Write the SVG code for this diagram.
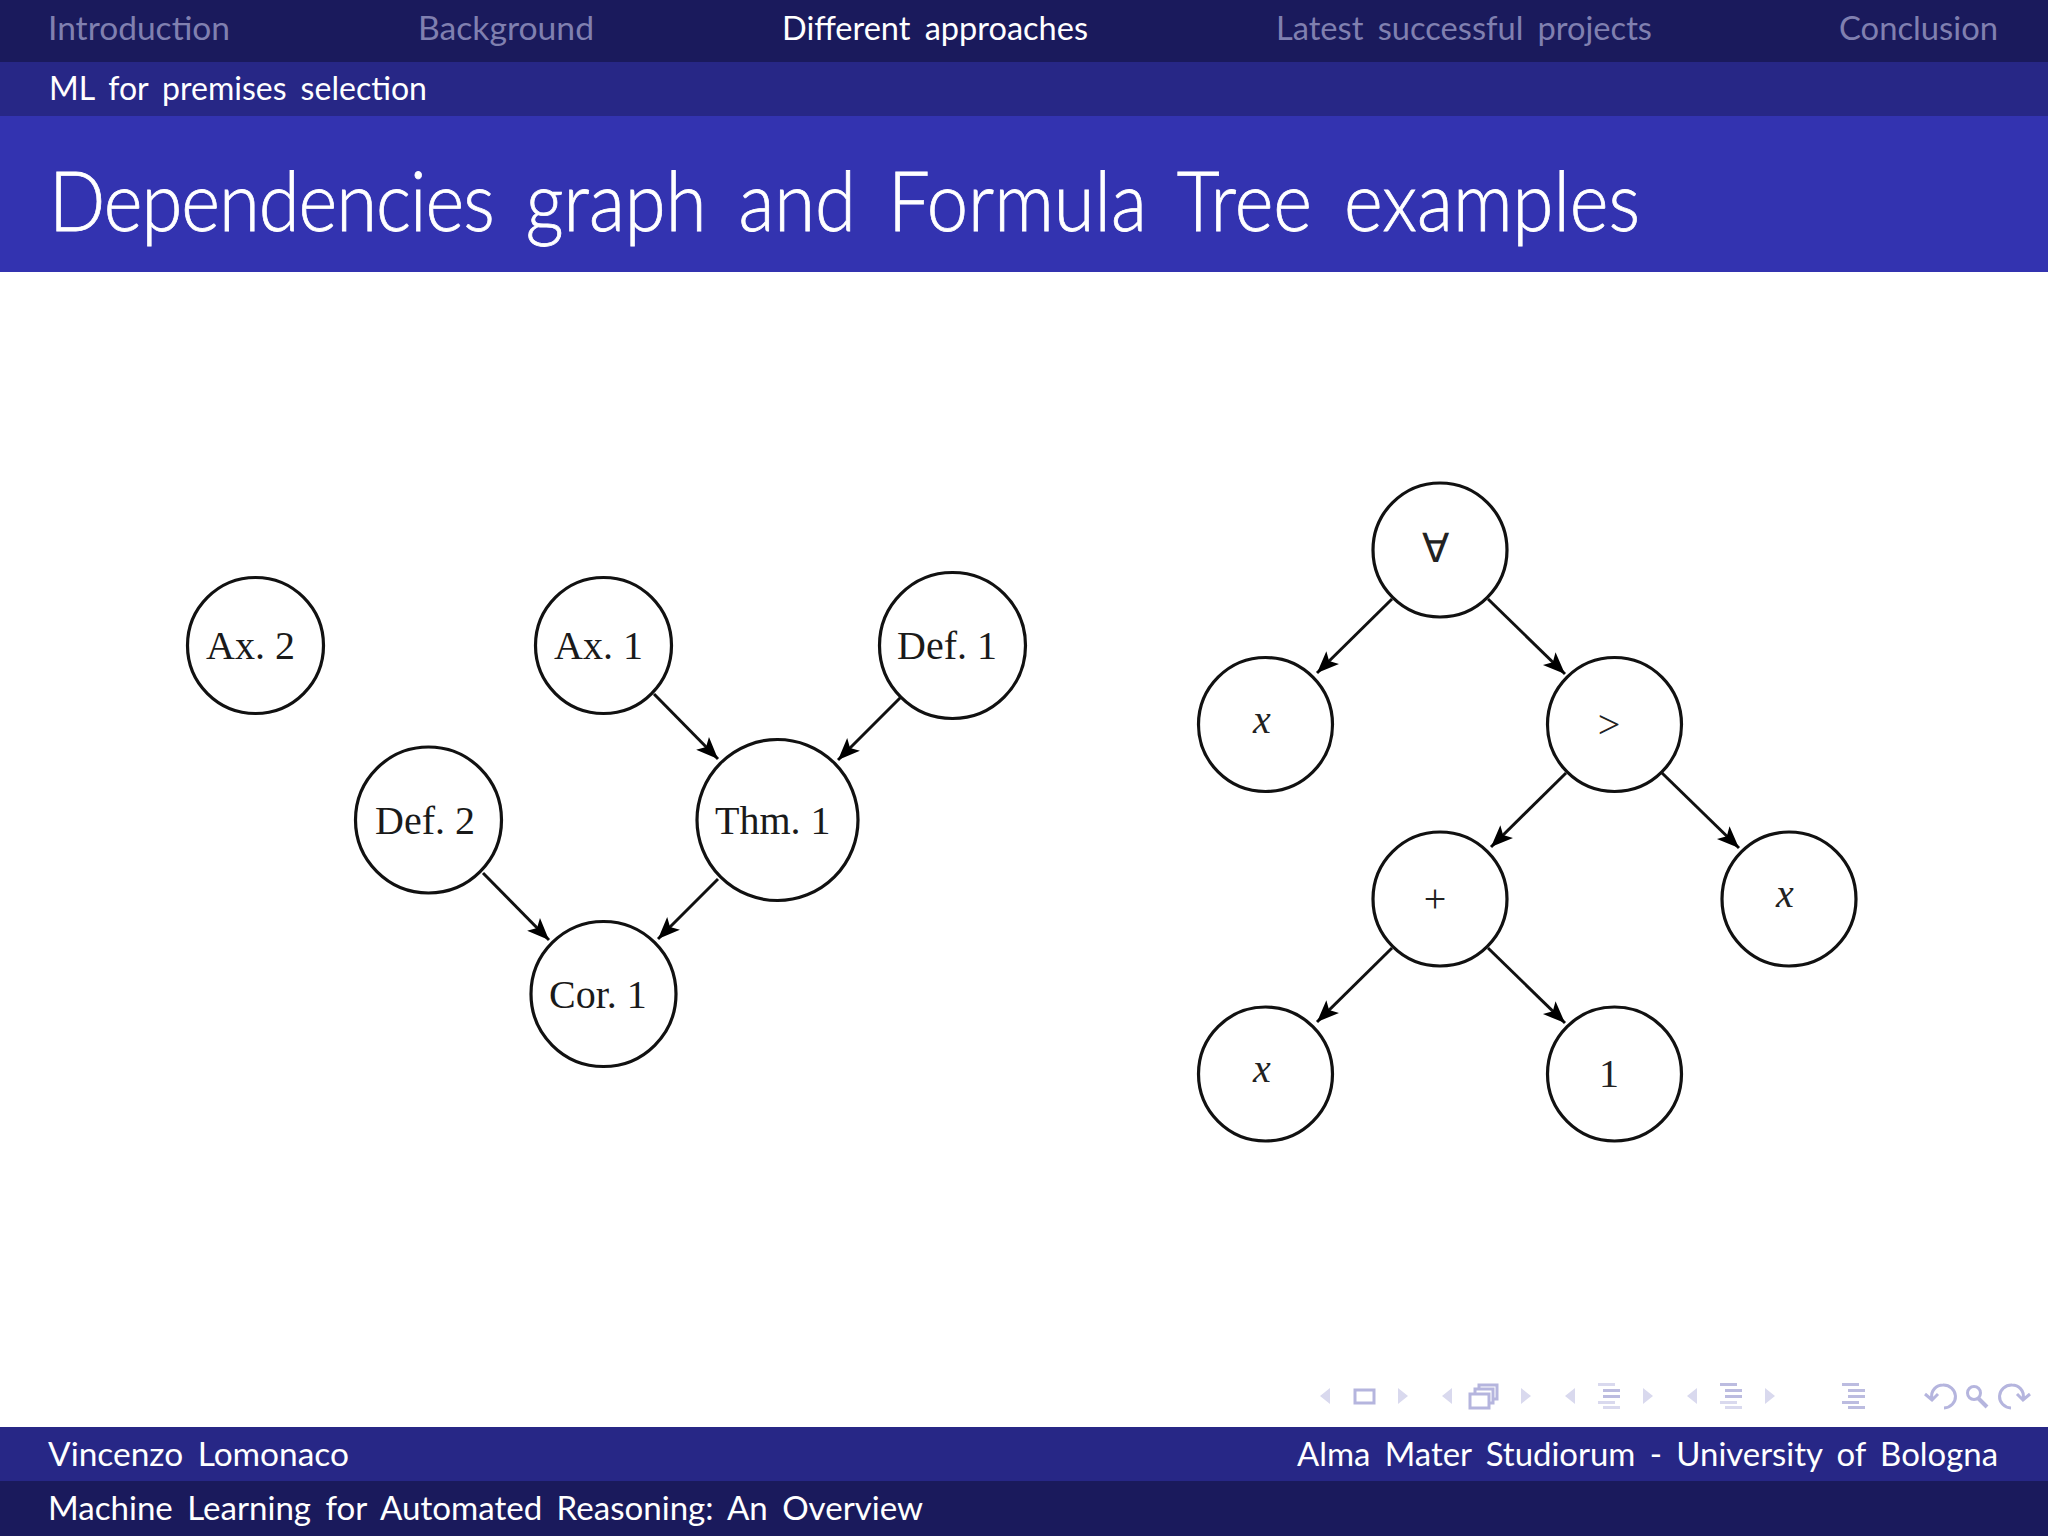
<svg xmlns="http://www.w3.org/2000/svg" width="2048" height="1536" viewBox="0 0 2048 1536">
<style>
.s{font-family:"Lato","Liberation Sans",sans-serif;font-size:33px;fill:#fff;word-spacing:.18em}
.d{fill:#8080b0}
.t{font-size:82px;font-weight:300;stroke:#fff;stroke-width:.8;word-spacing:.16em}
.n{fill:#fff;stroke:#111;stroke-width:3.2}
.l{font-family:"Liberation Serif",serif;font-size:40px;fill:#1a1a1a}
.m{font-family:"Liberation Serif",serif;font-size:40px;fill:#222;text-anchor:middle}
.i{font-style:italic}
.e{stroke:#111;stroke-width:3;fill:none;marker-end:url(#a)}
.h{fill:#d9d9ee}
.k{fill:#bcbce0}
.b{fill:none;stroke:#b5b5de;stroke-width:3}
.w{fill:#fff;stroke:#b5b5de;stroke-width:3}
</style>
<defs>
<marker id="a" markerUnits="userSpaceOnUse" markerWidth="26" markerHeight="22" viewBox="0 0 26 22" refX="24" refY="11" orient="auto"><path d="M24 11L2 2L7 11L2 20Z" fill="#000"/></marker>
<path id="lt" d="M10 0V16L0 8Z"/>
<path id="rt" d="M0 0V16L10 8Z"/>
</defs>
<rect width="2048" height="1536" fill="#fff"/>
<g id="header">
<rect width="2048" height="62" fill="#1a1a5c"/>
<rect y="62" width="2048" height="54" fill="#272786"/>
<rect y="116" width="2048" height="156" fill="#3333b0"/>
<text class="s d" x="48" y="40" textLength="182" lengthAdjust="spacingAndGlyphs">Introduction</text>
<text class="s d" x="418" y="40" textLength="176" lengthAdjust="spacingAndGlyphs">Background</text>
<text class="s" x="782" y="40" textLength="306" lengthAdjust="spacingAndGlyphs">Different approaches</text>
<text class="s d" x="1276" y="40" textLength="376" lengthAdjust="spacingAndGlyphs">Latest successful projects</text>
<text class="s d" x="1839" y="40" textLength="159" lengthAdjust="spacingAndGlyphs">Conclusion</text>
<text class="s" x="49" y="100" textLength="378" lengthAdjust="spacingAndGlyphs">ML for premises selection</text>
<text class="s t" x="49" y="231" textLength="1591" lengthAdjust="spacingAndGlyphs"><tspan style="letter-spacing:-1.1px">Dependencies</tspan> graph and Formula Tree examples</text>
</g>
<g id="connectors">
<line class="e" x1="654" y1="694" x2="718" y2="759"/>
<line class="e" x1="901" y1="697" x2="838" y2="760"/>
<line class="e" x1="483" y1="873" x2="549" y2="940"/>
<line class="e" x1="718" y1="879" x2="658" y2="939"/>
<line class="e" x1="1392" y1="599" x2="1317" y2="673"/>
<line class="e" x1="1488" y1="599" x2="1565" y2="674"/>
<line class="e" x1="1566" y1="773" x2="1491" y2="847"/>
<line class="e" x1="1662" y1="773" x2="1739" y2="848"/>
<line class="e" x1="1392" y1="948" x2="1317" y2="1022"/>
<line class="e" x1="1488" y1="948" x2="1565" y2="1023"/>
</g>
<g id="ax2"><circle class="n" cx="255.500" cy="645.500" r="68"/><text class="l" x="206" y="659">Ax. 2</text></g>
<g id="ax1"><circle class="n" cx="603.500" cy="645.500" r="68"/><text class="l" x="554" y="659">Ax. 1</text></g>
<g id="def1"><circle class="n" cx="952.500" cy="645.500" r="73"/><text class="l" x="897" y="659">Def. 1</text></g>
<g id="def2"><circle class="n" cx="428.500" cy="820" r="73"/><text class="l" x="375" y="834">Def. 2</text></g>
<g id="thm1"><circle class="n" cx="777.500" cy="820" r="80.500"/><text class="l" x="715" y="834">Thm. 1</text></g>
<g id="cor1"><circle class="n" cx="603.500" cy="994" r="72.500"/><text class="l" x="549" y="1008">Cor. 1</text></g>
<g id="forall"><circle class="n" cx="1440" cy="550" r="67"/><text class="m" x="1435" y="562">∀</text></g>
<g id="x1"><circle class="n" cx="1265.500" cy="724.500" r="67"/><text class="m i" x="1262" y="733">x</text></g>
<g id="gt"><circle class="n" cx="1614.500" cy="724.500" r="67"/><text class="m" x="1609" y="738">&gt;</text></g>
<g id="plus"><circle class="n" cx="1440" cy="899" r="67"/><text class="m" x="1435" y="912">+</text></g>
<g id="x2"><circle class="n" cx="1789" cy="899" r="67"/><text class="m i" x="1785" y="907">x</text></g>
<g id="x3"><circle class="n" cx="1265.500" cy="1074" r="67"/><text class="m i" x="1262" y="1082">x</text></g>
<g id="one"><circle class="n" cx="1614.500" cy="1074" r="67"/><text class="m" x="1609" y="1087">1</text></g>
<g id="nav">
<use href="#lt" class="h" x="1320" y="1388"/>
<rect class="b" x="1355" y="1390" width="19" height="13"/>
<use href="#rt" class="h" x="1398" y="1388"/>
<use href="#lt" class="h" x="1442" y="1388"/>
<rect class="w" x="1479" y="1385" width="18" height="14"/>
<rect class="w" x="1475" y="1389" width="18" height="14"/>
<rect class="w" x="1470" y="1394" width="19" height="14"/>
<use href="#rt" class="h" x="1521" y="1388"/>
<use href="#lt" class="h" x="1565" y="1388"/>
<rect class="h" x="1598" y="1383" width="17" height="3"/><rect class="k" x="1603" y="1389" width="17" height="3"/><rect class="k" x="1603" y="1395" width="17" height="3"/><rect class="h" x="1598" y="1401" width="17" height="3"/><rect class="h" x="1603" y="1406" width="17" height="3"/>
<use href="#rt" class="h" x="1643" y="1388"/>
<use href="#lt" class="h" x="1687" y="1388"/>
<rect class="k" x="1720" y="1383" width="17" height="3"/><rect class="k" x="1725" y="1389" width="17" height="3"/><rect class="k" x="1725" y="1395" width="17" height="3"/><rect class="h" x="1720" y="1401" width="17" height="3"/><rect class="h" x="1725" y="1406" width="17" height="3"/>
<use href="#rt" class="h" x="1765" y="1388"/>
<rect class="k" x="1842" y="1383" width="17" height="3"/><rect class="k" x="1848" y="1389" width="17" height="3"/><rect class="k" x="1848" y="1395" width="17" height="3"/><rect class="k" x="1842" y="1401" width="17" height="3"/><rect class="k" x="1848" y="1406" width="17" height="3"/>
<path class="b" d="M1932 1399C1930 1390 1937 1385 1943 1385A12 11.500 0 0 1 1944 1408M1925 1394L1932 1400L1938 1394"/>
<circle class="b" cx="1974" cy="1393" r="6.500"/><path class="b" style="stroke-width:4" d="M1978 1398L1987 1407"/>
<path class="b" d="M2023 1399C2025 1390 2018 1385 2012 1385A12 11.500 0 0 0 2011 1408M2017 1394L2023 1400L2030 1394"/>
</g>
<g id="footer">
<rect y="1427" width="2048" height="54" fill="#272786"/>
<rect y="1481" width="2048" height="55" fill="#1a1a5c"/>
<text class="s" x="48" y="1466" textLength="301" lengthAdjust="spacingAndGlyphs">Vincenzo Lomonaco</text>
<text class="s" x="1297" y="1466" textLength="701" lengthAdjust="spacingAndGlyphs">Alma Mater Studiorum - University of Bologna</text>
<text class="s" x="48" y="1520" textLength="875" lengthAdjust="spacingAndGlyphs">Machine Learning for Automated Reasoning: An Overview</text>
</g>
</svg>
